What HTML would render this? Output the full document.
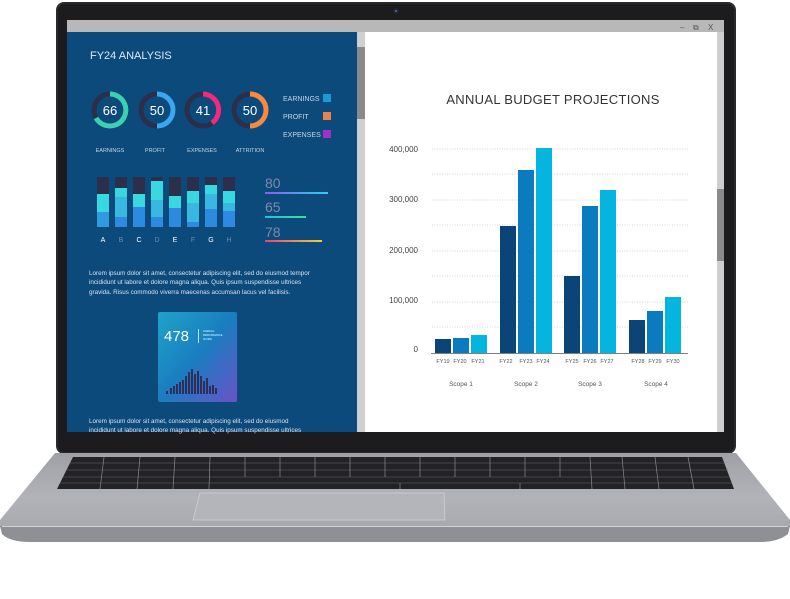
<!DOCTYPE html>
<html><head><meta charset="utf-8"><style>
html,body{margin:0;padding:0;background:#fff;}
svg{display:block;font-family:"Liberation Sans",sans-serif;}
</style></head><body>
<svg width="790" height="599" viewBox="0 0 790 599" xmlns="http://www.w3.org/2000/svg">
<defs>
<linearGradient id="deck" x1="0" y1="0" x2="0" y2="1"><stop offset="0" stop-color="#9fa0a5"/><stop offset="0.6" stop-color="#b2b3b8"/><stop offset="1" stop-color="#a8a9ae"/></linearGradient>
<linearGradient id="card" x1="0" y1="0" x2="1" y2="1"><stop offset="0" stop-color="#1fa3c8"/><stop offset="0.5" stop-color="#1a7dc0"/><stop offset="1" stop-color="#6a52c8"/></linearGradient>
<linearGradient id="g1" x1="0" x2="1"><stop offset="0" stop-color="#8a5cf0"/><stop offset="1" stop-color="#2ad0f0"/></linearGradient>
<linearGradient id="g2" x1="0" x2="1"><stop offset="0" stop-color="#22c0e0"/><stop offset="1" stop-color="#3ee090"/></linearGradient>
<linearGradient id="g3" x1="0" x2="1"><stop offset="0" stop-color="#f04070"/><stop offset="1" stop-color="#f0d030"/></linearGradient>
</defs>
<!-- lid -->
<rect x="56" y="2" width="680" height="452" rx="8" fill="#2a2a2c"/>
<rect x="58" y="4" width="676" height="448" rx="7" fill="#1c1c1e"/>
<circle cx="396" cy="11" r="3" fill="#223"/><circle cx="396" cy="11" r="1.2" fill="#4060a0"/>
<!-- screen -->
<rect x="67" y="20" width="657" height="412" fill="#b8b8b8"/>
<text x="680" y="30" font-size="8" fill="#555">–</text>
<text x="693" y="30" font-size="8" fill="#555">⧉</text>
<text x="708" y="30" font-size="8" fill="#555">X</text>
<rect x="67" y="32" width="290" height="400" fill="#0c4a7c"/>
<rect x="357" y="32" width="8" height="400" fill="#d0d0d0"/>
<rect x="357" y="47" width="8" height="72" fill="#8a8a8a"/>
<rect x="365" y="32" width="352" height="400" fill="#fff"/>
<rect x="717" y="32" width="7" height="400" fill="#cfcfcf"/>
<rect x="717" y="189" width="7" height="72" fill="#8a8a8a"/>
<!-- left panel -->
<text x="90" y="59" font-size="11" fill="#dfe8f2">FY24 ANALYSIS</text>
<g font-size="13" fill="#fff" text-anchor="middle">
<circle cx="110" cy="110" r="16" fill="none" stroke="#2b2f4a" stroke-width="5"/>
<path d="M110 94 A16 16 0 1 1 96 118" fill="none" stroke="#3ad0b0" stroke-width="5"/>
<text x="110" y="115">66</text>
<circle cx="157" cy="110" r="16" fill="none" stroke="#2b2f4a" stroke-width="5"/>
<path d="M157 94 A16 16 0 0 1 157 126" fill="none" stroke="#3aa8f0" stroke-width="5"/>
<text x="157" y="115">50</text>
<circle cx="203" cy="110" r="16" fill="none" stroke="#2b2f4a" stroke-width="5"/>
<path d="M203 94 A16 16 0 0 1 212 123" fill="none" stroke="#f02a80" stroke-width="5"/>
<text x="203" y="115">41</text>
<circle cx="250" cy="110" r="16" fill="none" stroke="#2b2f4a" stroke-width="5"/>
<path d="M250 94 A16 16 0 0 1 250 126" fill="none" stroke="#f88a40" stroke-width="5"/>
<text x="250" y="115">50</text>
</g>
<g font-size="5.5" fill="#c8d4e4" text-anchor="middle">
<text x="110" y="152">EARNINGS</text><text x="155" y="152">PROFIT</text><text x="202" y="152">EXPENSES</text><text x="250" y="152">ATTRITION</text>
</g>
<g font-size="7" fill="#c8d4e4">
<text x="283" y="101">EARNINGS</text><rect x="323" y="94" width="8" height="8" fill="#1a9ad8"/>
<text x="283" y="119">PROFIT</text><rect x="323" y="112" width="8" height="8" fill="#e8844a"/>
<text x="283" y="137">EXPENSES</text><rect x="323" y="130" width="8" height="8" fill="#a030c8"/>
</g>
<g>
<rect x="97" y="177" width="12" height="50" fill="#2b2f4a"/><rect x="97" y="194" width="12" height="33" fill="#38d8e0"/><rect x="97" y="212" width="12" height="15" fill="#2e9ae0"/>
<rect x="115" y="177" width="12" height="50" fill="#2b2f4a"/><rect x="115" y="188" width="12" height="39" fill="#38d8e0"/><rect x="115" y="197" width="12" height="30" fill="#38b8e0"/><rect x="115" y="217" width="12" height="10" fill="#2e8ae0"/>
<rect x="133" y="177" width="12" height="50" fill="#2b2f4a"/><rect x="133" y="194" width="12" height="33" fill="#38d8e0"/><rect x="133" y="207" width="12" height="20" fill="#2e8ae0"/>
<rect x="151" y="177" width="12" height="50" fill="#2b2f4a"/><rect x="151" y="181" width="12" height="46" fill="#38d8e0"/><rect x="151" y="200" width="12" height="27" fill="#38b8e0"/><rect x="151" y="217" width="12" height="10" fill="#2e8ae0"/>
<rect x="169" y="177" width="12" height="50" fill="#2b2f4a"/><rect x="169" y="196" width="12" height="31" fill="#38d8e0"/><rect x="169" y="208" width="12" height="19" fill="#2e8ae0"/>
<rect x="187" y="177" width="12" height="50" fill="#2b2f4a"/><rect x="187" y="191" width="12" height="36" fill="#38d8e0"/><rect x="187" y="203" width="12" height="24" fill="#38b8e0"/><rect x="187" y="222" width="12" height="5" fill="#2e8ae0"/>
<rect x="205" y="177" width="12" height="50" fill="#2b2f4a"/><rect x="205" y="185" width="12" height="42" fill="#38d8e0"/><rect x="205" y="194" width="12" height="33" fill="#38b8e0"/><rect x="205" y="209" width="12" height="18" fill="#2e8ae0"/>
<rect x="223" y="177" width="12" height="50" fill="#2b2f4a"/><rect x="223" y="191" width="12" height="36" fill="#38d8e0"/><rect x="223" y="203" width="12" height="24" fill="#38b8e0"/><rect x="223" y="211" width="12" height="16" fill="#2e8ae0"/>
</g>
<g font-size="7" text-anchor="middle">
<text x="103" y="242" fill="#fff">A</text><text x="121" y="242" fill="#6f8aa8">B</text><text x="139" y="242" fill="#fff">C</text><text x="157" y="242" fill="#6f8aa8">D</text><text x="175" y="242" fill="#fff">E</text><text x="193" y="242" fill="#6f8aa8">F</text><text x="211" y="242" fill="#fff">G</text><text x="229" y="242" fill="#6f8aa8">H</text>
</g>
<g font-size="14" fill="#7d8aa8">
<text x="265" y="188">80</text><rect x="265" y="192" width="63" height="2" fill="url(#g1)"/>
<text x="265" y="212">65</text><rect x="265" y="216" width="41" height="2" fill="url(#g2)"/>
<text x="265" y="237">78</text><rect x="265" y="240" width="57" height="2" fill="url(#g3)"/>
</g>
<g font-size="6.3" fill="#d8e2ee">
<text x="89" y="275">Lorem ipsum dolor sit amet, consectetur adipiscing elit, sed do eiusmod tempor</text>
<text x="89" y="284">incididunt ut labore et dolore magna aliqua. Quis ipsum suspendisse ultrices</text>
<text x="89" y="294">gravida. Risus commodo viverra maecenas accumsan lacus vel facilisis.</text>
<text x="89" y="423">Lorem ipsum dolor sit amet, consectetur adipiscing elit, sed do eiusmod</text>
<text x="89" y="432">incididunt ut labore et dolore magna aliqua. Quis ipsum suspendisse ultrices</text>
</g>
<rect x="158" y="312" width="79" height="90" rx="2" fill="url(#card)"/>
<text x="164" y="341" font-size="15" fill="#fff">478</text>
<rect x="198" y="329" width="0.8" height="14" fill="#dff"/>
<text x="203" y="332" font-size="2.5" fill="#dff">OVERALL</text><text x="203" y="336" font-size="2.5" fill="#dff">PERFORMANCE</text><text x="203" y="340" font-size="2.5" fill="#dff">SCORE</text>
<g fill="#2b2f5a">
<rect x="166" y="391" width="2" height="3"/><rect x="170" y="388" width="2" height="6"/><rect x="173" y="386" width="2" height="8"/><rect x="176" y="384" width="2" height="10"/><rect x="179" y="382" width="2" height="12"/><rect x="182" y="380" width="2" height="14"/><rect x="185" y="376" width="2" height="18"/><rect x="188" y="372" width="2" height="22"/><rect x="191" y="369" width="2" height="25"/><rect x="194" y="374" width="2" height="20"/><rect x="197" y="371" width="2" height="23"/><rect x="200" y="376" width="2" height="18"/><rect x="203" y="381" width="2" height="13"/><rect x="206" y="378" width="2" height="16"/><rect x="209" y="386" width="2" height="8"/><rect x="212" y="385" width="2" height="9"/><rect x="215" y="388" width="2" height="6"/>
</g>
<!-- right chart -->
<text x="553" y="104" font-size="13" fill="#333" text-anchor="middle" letter-spacing="0.3">ANNUAL BUDGET PROJECTIONS</text>
<g stroke="#c8c8c8" stroke-width="0.8" stroke-dasharray="1,1.5">
<line x1="432" y1="149" x2="688" y2="149"/><line x1="432" y1="174" x2="688" y2="174"/><line x1="432" y1="200" x2="688" y2="200"/><line x1="432" y1="225" x2="688" y2="225"/><line x1="432" y1="251" x2="688" y2="251"/><line x1="432" y1="276" x2="688" y2="276"/><line x1="432" y1="302" x2="688" y2="302"/><line x1="432" y1="327" x2="688" y2="327"/>
</g>
<g font-size="8" fill="#444" text-anchor="end">
<text x="418" y="152">400,000</text><text x="418" y="202">300,000</text><text x="418" y="253">200,000</text><text x="418" y="303">100,000</text><text x="418" y="352">0</text>
</g>
<g>
<rect x="435" y="339" width="16" height="14" fill="#0b4577"/><rect x="453" y="338" width="16" height="15" fill="#0a7bbf"/><rect x="471" y="335" width="16" height="18" fill="#04b5e0"/>
<rect x="500" y="226" width="16" height="127" fill="#0b4577"/><rect x="518" y="170" width="16" height="183" fill="#0a7bbf"/><rect x="536" y="148" width="16" height="205" fill="#04b5e0"/>
<rect x="564" y="276" width="16" height="77" fill="#0b4577"/><rect x="582" y="206" width="16" height="147" fill="#0a7bbf"/><rect x="600" y="190" width="16" height="163" fill="#04b5e0"/>
<rect x="629" y="320" width="16" height="33" fill="#0b4577"/><rect x="647" y="311" width="16" height="42" fill="#0a7bbf"/><rect x="665" y="297" width="16" height="56" fill="#04b5e0"/>
</g>
<line x1="431" y1="353.5" x2="688" y2="353.5" stroke="#555" stroke-width="0.8"/>
<g font-size="5.5" fill="#555" text-anchor="middle">
<text x="443" y="363">FY19</text><text x="460" y="363">FY20</text><text x="478" y="363">FY21</text>
<text x="506" y="363">FY22</text><text x="526" y="363">FY23</text><text x="543" y="363">FY24</text>
<text x="572" y="363">FY25</text><text x="590" y="363">FY26</text><text x="607" y="363">FY27</text>
<text x="638" y="363">FY28</text><text x="655" y="363">FY29</text><text x="673" y="363">FY30</text>
</g>
<g font-size="6.5" fill="#555" text-anchor="middle">
<text x="461" y="386">Scope 1</text><text x="526" y="386">Scope 2</text><text x="590" y="386">Scope 3</text><text x="656" y="386">Scope 4</text>
</g>
<!-- deck -->
<path d="M55 453 L736 453 L790 520 L790 527 L0 527 L0 520 Z" fill="url(#deck)"/>
<path d="M0 526 L790 526 L788 534 Q778 542 760 542 L30 542 Q10 542 2 534 Z" fill="#8f9095"/>
<line x1="2" y1="526.5" x2="788" y2="526.5" stroke="#d2d2d6" stroke-width="1"/>
<!-- keyboard -->
<path d="M73 457 L722 457 L734 489 L57 489 Z" fill="#232325"/>
<g stroke="#6b6b70" stroke-width="0.6">
<line x1="70" y1="463" x2="725" y2="463"/><line x1="67" y1="470" x2="728" y2="470"/><line x1="63" y1="477" x2="730" y2="477"/><line x1="60" y1="483" x2="732" y2="483"/>
</g>
<g stroke="#8a8a90" stroke-width="0.7">
<line x1="104" y1="457" x2="100" y2="489"/><line x1="140" y1="457" x2="137" y2="489"/><line x1="175" y1="457" x2="173" y2="489"/><line x1="210" y1="457" x2="209" y2="489"/><line x1="245" y1="457" x2="245" y2="477"/><line x1="280" y1="457" x2="280" y2="477"/><line x1="315" y1="457" x2="315" y2="477"/><line x1="350" y1="457" x2="350" y2="477"/><line x1="385" y1="457" x2="385" y2="477"/><line x1="420" y1="457" x2="420" y2="477"/><line x1="455" y1="457" x2="455" y2="477"/><line x1="490" y1="457" x2="490" y2="477"/><line x1="525" y1="457" x2="525" y2="477"/><line x1="560" y1="457" x2="560" y2="477"/><line x1="590" y1="457" x2="592" y2="489"/><line x1="622" y1="457" x2="625" y2="489"/><line x1="655" y1="457" x2="659" y2="489"/><line x1="688" y1="457" x2="694" y2="489"/><line x1="400" y1="483" x2="400" y2="489"/><line x1="520" y1="483" x2="520" y2="489"/>
</g>
<!-- touchpad -->
<path d="M200 493 L444 493 L445 520 L193 520 Z" fill="#b4b5ba" stroke="#cfd0d4" stroke-width="0.8"/>
</svg>
</body></html>
